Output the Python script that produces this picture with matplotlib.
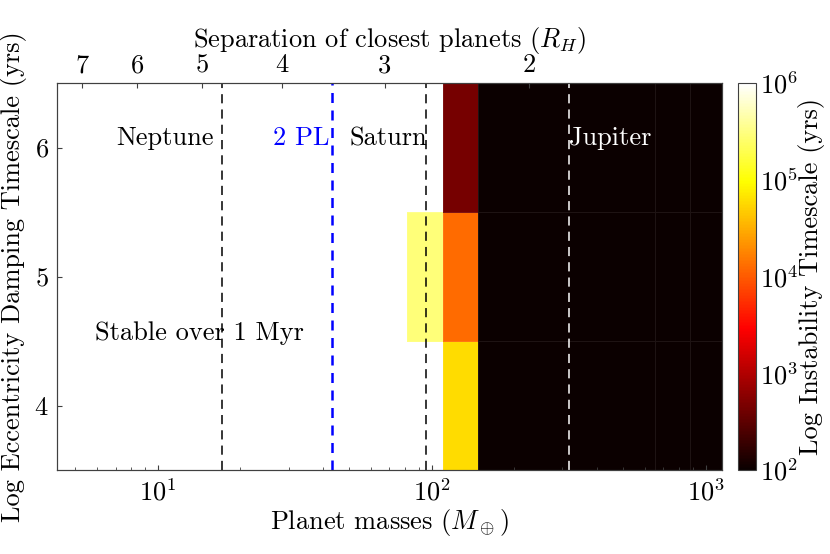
import numpy as np
import matplotlib
matplotlib.use('Agg')
import matplotlib.pyplot as plt
from matplotlib.colors import LogNorm

mass_edges = [81, 110, 147, 652, 875, 1148]          # Earth masses
damping_edges = [3.5, 4.5, 5.5, 6.5]                 # log yrs
timescale = [
    [np.nan, 6.0e4, 1e2, 1e2, 1e2],                 # log damping = 4
    [2.9e5, 1.27e4, 1e2, 1e2, 1e2],                 # log damping = 5
    [np.nan, 450, 1e2, 1e2, 1e2],                   # log damping = 6
]
sep_ticks = [7, 6, 5, 4, 3, 2]
sep_const = 12.2          # separation = sep_const * M^(-1/3)
planet_names = ['Neptune', 'Saturn', 'Jupiter']
planet_masses = [17.1, 95.2, 317.8]
planet_colors = ['k', 'k', 'w']
two_pl_mass = 43.4

plt.rcParams['font.family'] = 'serif'
plt.rcParams['font.serif'] = ['cmr10', 'DejaVu Serif']
plt.rcParams['mathtext.fontset'] = 'cm'
plt.rcParams['axes.formatter.use_mathtext'] = True
plt.rcParams['font.size'] = 19
plt.rcParams['axes.unicode_minus'] = False

fig = plt.figure(figsize=(8.3, 5.54), dpi=100)
ax = fig.add_axes([57/830, 84/554, 665/830, 387/554])
cax = fig.add_axes([738/830, 84/554, 18/830, 387/554])

data = np.ma.masked_invalid(np.array(timescale))
mesh = ax.pcolormesh(mass_edges, damping_edges, data, cmap='hot',
                     norm=LogNorm(vmin=1e2, vmax=1e6),
                     edgecolors=(1, 1, 1, 0.08), linewidth=0.6)
ax.set_xscale('log')
ax.set_xlim(4.28, 1148)
ax.set_ylim(3.5, 6.5)
ax.set_yticks([4, 5, 6])

for m, c in zip(planet_masses, planet_colors):
    ax.axvline(m, color=c, ls='--', lw=1.1, dashes=(6, 4))
ax.axvline(two_pl_mass, color='b', ls='--', lw=1.8, dashes=(4, 3))

ax.text(16.0, 6.07, 'Neptune', ha='right', va='center', color='k')
ax.text(42.3, 6.07, '2 PL', ha='right', va='center', color='b')
ax.text(96.5, 6.07, 'Saturn', ha='right', va='center', color='k')
ax.text(318, 6.07, 'Jupiter', ha='left', va='center', color='w')
ax.text(5.9, 4.56, 'Stable over 1 Myr', ha='left', va='center', color='k')

ax.set_xlabel(r'Planet masses ($M_\oplus$)', labelpad=1)
ax.set_ylabel('Log Eccentricity Damping Timescale (yrs)', labelpad=5)

for s in ax.spines.values():
    s.set_color('0.25')
ax.tick_params(which='both', direction='in', top=False, right=False, color='0.25')
ax.tick_params(which='major', length=3.5, pad=6)
ax.tick_params(which='minor', length=2)

# top axis: separation in Hill radii
top = ax.twiny()
top.set_xscale('log')
top.set_xlim(ax.get_xlim())
top.set_xticks([(sep_const / s) ** 3 for s in sep_ticks])
top.set_xticklabels([str(s) for s in sep_ticks])
top.minorticks_off()
top.tick_params(direction='in', length=3.5, pad=4, color='0.25')
top.set_xlabel(r'Separation of closest planets ($R_H$)', labelpad=5)
for s in top.spines.values():
    s.set_color('0.25')

cb = fig.colorbar(mesh, cax=cax)
cb.outline.set_edgecolor('0.25')
cb.ax.tick_params(which='both', length=0, pad=3)
cb.ax.minorticks_off()
cb.set_label('Log Instability Timescale (yrs)', labelpad=0)

fig.savefig('out.png', dpi=100)
